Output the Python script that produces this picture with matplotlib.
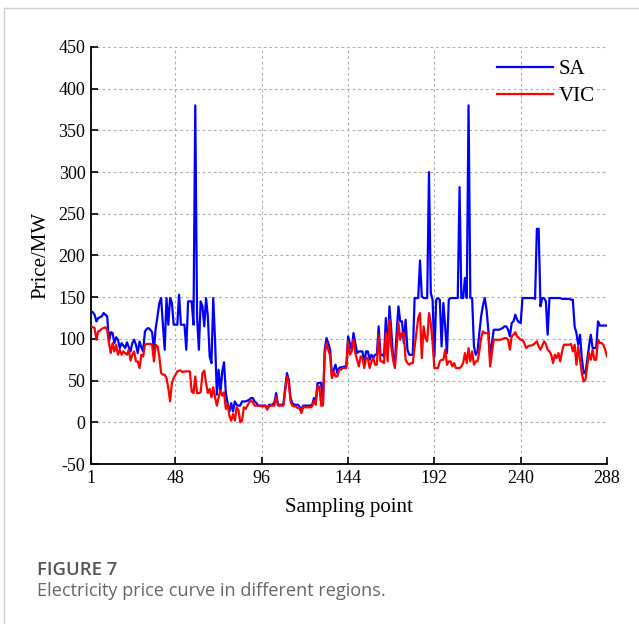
import numpy as np
import matplotlib
matplotlib.use("Agg")
import matplotlib.pyplot as plt
from matplotlib.lines import Line2D

# Electricity price (per MW) at each of 288 sampling points
sa_price = [
    133, 132, 129, 121, 125, 126, 127, 131, 129, 127, 97, 108,
    107, 95, 102, 99, 89, 95, 92, 89, 96, 90, 85, 95,
    99, 93, 83, 97, 90, 85, 109, 112, 113, 111, 108, 87,
    113, 127, 143, 149, 117, 87, 149, 117, 149, 143, 117, 117,
    117, 153, 117, 117, 117, 87, 145, 145, 145, 117, 380, 127,
    87, 145, 139, 115, 149, 127, 79, 71, 149, 99, 33, 63,
    35, 61, 72, 35, 23, 13, 23, 13, 25, 21, 20, 20,
    25, 25, 25, 26, 27, 29, 29, 25, 23, 20, 20, 20,
    20, 20, 17, 21, 21, 21, 24, 35, 21, 21, 21, 21,
    41, 59, 51, 29, 23, 21, 21, 21, 19, 15, 20, 20,
    20, 20, 20, 21, 29, 25, 47, 47, 47, 22, 87, 101,
    95, 87, 55, 63, 69, 59, 65, 66, 66, 67, 67, 103,
    95, 87, 107, 95, 83, 85, 85, 85, 71, 85, 85, 75,
    81, 77, 81, 81, 115, 81, 81, 79, 125, 81, 139, 111,
    79, 71, 107, 139, 121, 121, 95, 123, 87, 81, 81, 81,
    149, 149, 149, 194, 151, 149, 149, 149, 300, 155, 147, 79,
    147, 149, 147, 91, 143, 115, 83, 147, 149, 149, 149, 149,
    149, 282, 149, 149, 173, 149, 380, 149, 149, 91, 81, 85,
    107, 127, 140, 149, 135, 111, 77, 95, 111, 111, 111, 111,
    112, 113, 115, 115, 111, 103, 119, 121, 129, 123, 120, 119,
    149, 149, 149, 149, 149, 149, 149, 148, 232, 232, 139, 149,
    149, 145, 105, 149, 149, 149, 149, 149, 149, 149, 148, 148,
    148, 148, 148, 147, 147, 115, 107, 93, 105, 77, 59, 59,
    75, 91, 105, 89, 89, 89, 121, 116, 116, 116, 116, 116,
]

vic_price = [
    115, 114, 113, 99, 109, 110, 112, 113, 114, 111, 95, 83,
    95, 85, 93, 81, 87, 81, 85, 83, 81, 87, 74, 81,
    85, 73, 73, 65, 81, 79, 93, 94, 94, 94, 93, 73,
    93, 91, 79, 59, 57, 57, 53, 41, 25, 47, 53, 57,
    61, 62, 62, 60, 61, 61, 61, 61, 37, 35, 55, 35,
    35, 36, 59, 62, 47, 35, 40, 30, 42, 30, 20, 30,
    38, 32, 36, 16, 22, 8, 2, 10, 2, 18, 15, 0,
    2, 18, 16, 20, 24, 26, 24, 20, 20, 20, 20, 19,
    19, 20, 15, 19, 20, 20, 20, 31, 20, 20, 20, 20,
    37, 55, 47, 25, 20, 19, 19, 17, 17, 11, 18, 18,
    18, 18, 18, 19, 26, 21, 43, 43, 20, 20, 81, 95,
    87, 80, 53, 61, 55, 55, 63, 63, 65, 65, 65, 97,
    81, 85, 99, 83, 75, 67, 79, 77, 65, 77, 77, 65,
    73, 77, 69, 69, 105, 73, 73, 71, 107, 73, 123, 91,
    75, 65, 90, 119, 99, 107, 107, 75, 71, 69, 71, 71,
    90, 107, 125, 131, 77, 115, 101, 97, 131, 119, 95, 65,
    65, 65, 73, 75, 75, 87, 69, 73, 73, 67, 71, 65,
    65, 65, 67, 71, 83, 71, 89, 73, 85, 69, 73, 73,
    85, 101, 109, 107, 107, 107, 67, 83, 99, 99, 99, 99,
    99, 100, 101, 101, 99, 87, 103, 105, 108, 103, 101, 99,
    99, 95, 89, 91, 92, 92, 93, 95, 97, 91, 87, 92,
    97, 94, 87, 85, 81, 71, 81, 77, 83, 73, 85, 93,
    93, 93, 93, 94, 85, 93, 69, 91, 75, 59, 49, 51,
    67, 83, 75, 87, 75, 75, 99, 95, 95, 93, 87, 79,
]

x_ticks = [1, 48, 96, 144, 192, 240, 288]
y_ticks = [-50, 0, 50, 100, 150, 200, 250, 300, 350, 400, 450]
series_names = ["SA", "VIC"]
series_colors = ["#0000ff", "#ff0000"]

sample = np.arange(1, len(sa_price) + 1)

plt.rcParams["axes.unicode_minus"] = False
serif = ["Liberation Serif", "DejaVu Serif"]
fig = plt.figure(figsize=(6.39, 6.24), dpi=100)
ax = fig.add_axes([0.1424, 0.2564, 0.8075, 0.6683])

for vals, name, col in zip([sa_price, vic_price], series_names, series_colors):
    ax.plot(sample, vals, color=col, lw=1.6, label=name, zorder=3)

ax.set_xlim(1, 288)
ax.set_ylim(-50, 450)
ax.set_xticks(x_ticks)
ax.set_yticks(y_ticks)
ax.grid(True, color="#b0b0b0", linestyle=(0, (2.5, 2.5)), lw=0.8)
ax.set_axisbelow(True)
for side in ("top", "right"):
    ax.spines[side].set_visible(False)
for side in ("left", "bottom"):
    ax.spines[side].set_linewidth(1.3)
ax.tick_params(direction="in", length=5, width=1.2, labelsize=13, pad=4)
for lab in ax.get_xticklabels() + ax.get_yticklabels():
    lab.set_fontfamily(serif)

ax.set_xlabel("Sampling point", fontsize=15, family=serif, labelpad=8)
ax.set_ylabel("Price/MW", fontsize=15, family=serif, labelpad=6)

leg = ax.legend(loc="upper right", frameon=False, handlelength=2.7,
                handletextpad=0.25, labelspacing=0.35, borderaxespad=0.2,
                prop={"family": serif, "size": 15})

# Caption
fig.text(37 / 639, 1 - 570 / 624, "FIGURE 7", fontsize=13.3, color="#555555",
         family="Open Sans", weight="semibold", va="center", ha="left")
fig.text(37 / 639, 1 - 591 / 624, "Electricity price curve in different regions.",
         fontsize=13.1, color="#666666", family="Open Sans", va="center", ha="left")

# Light border around the figure panel
frame_col = "#cfcfcf"
fig.add_artist(Line2D([4 / 639, 4 / 639], [0, 1 - 8 / 624], color=frame_col, lw=1.0,
                      transform=fig.transFigure))
fig.add_artist(Line2D([4 / 639, 1], [1 - 8 / 624, 1 - 8 / 624], color=frame_col, lw=1.0,
                      transform=fig.transFigure))

fig.savefig("out.png", dpi=100)
